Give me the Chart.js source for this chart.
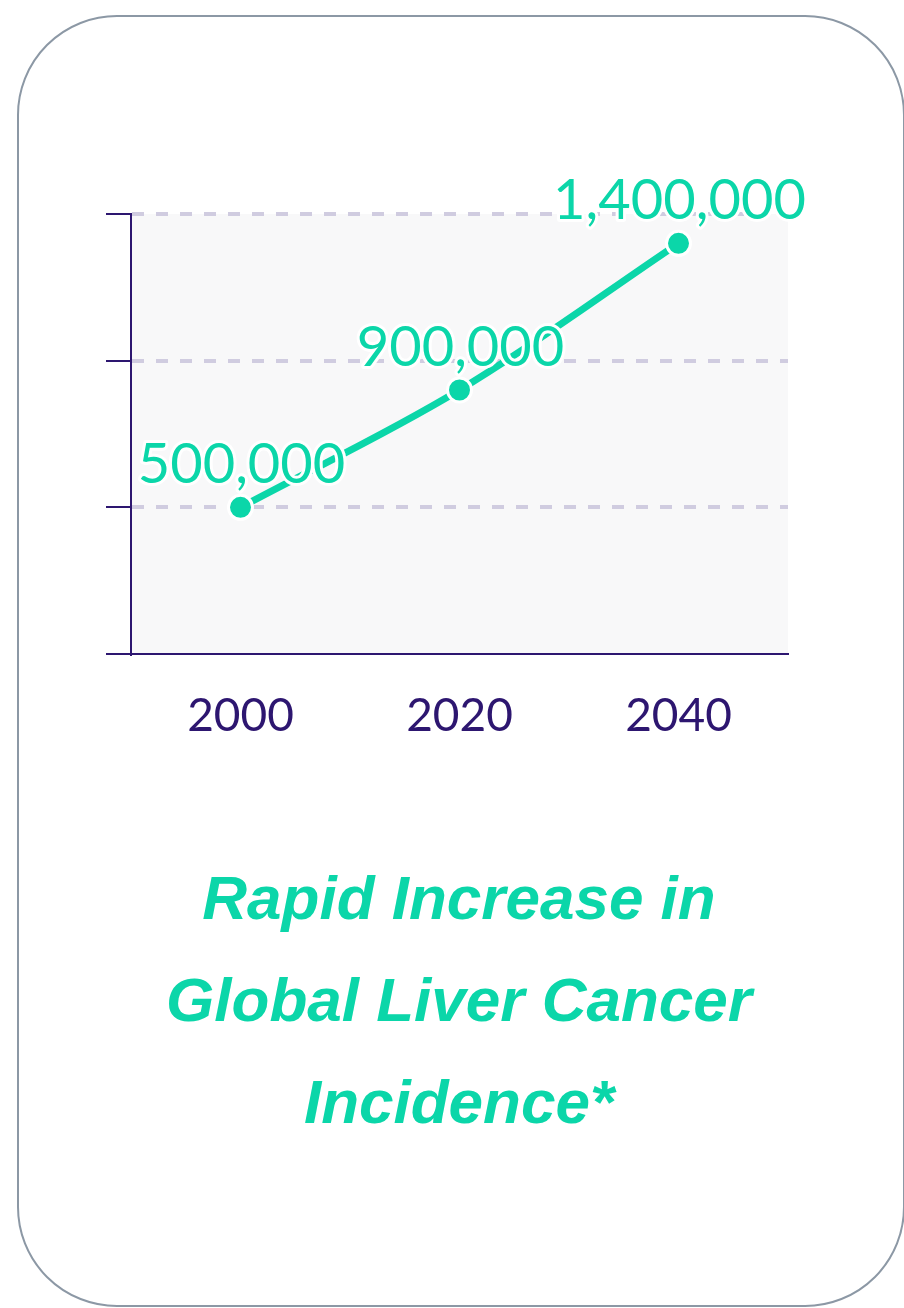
<!DOCTYPE html>
<html>
<head>
<meta charset="utf-8">
<script src="https://cdn.jsdelivr.net/npm/chart.js@4"></script>
<style>
  body { margin: 0; background: #fff; width: 904px; height: 1308px; position: relative; overflow: hidden; }
  #card {
    position: absolute; left: 17px; top: 15px; width: 884px; height: 1288px;
    border: 2px solid #8c98a5; border-radius: 100px; background: #fff;
  }
  #chart-box { position: absolute; left: 0; top: 0; width: 904px; height: 780px; }
  #title {
    position: absolute; left: 0; top: 847px; width: 918px; text-align: center;
    font-family: 'Liberation Sans', Arial, sans-serif;
    font-weight: bold; font-style: italic; font-size: 62px; line-height: 102px;
    color: #0bd6a9;
  }
</style>
</head>
<body>
<div id="card"></div>
<div id="chart-box"><canvas id="chart"></canvas></div>
<div id="title">Rapid Increase in<br>Global Liver Cancer<br>Incidence*</div>
<script>
//----------------------------------DATA-----------------------------------------------------------

const years = ['2000', '2020', '2040']
const cases = [500000, 900000, 1400000]
const yTicks = [0, 500000, 1000000, 1500000]

const GREEN = '#0bd6a9'
const PURPLE = '#2d1670'

//----------------------------------PLUGINS--------------------------------------------------------

// light grey box behind the plot
const plotBackground = {
    id: 'plotBackground',
    beforeDraw(chart){
        let {ctx, chartArea} = chart
        ctx.save()
        ctx.fillStyle = '#f8f8f9'
        ctx.fillRect(chartArea.left, chartArea.top, chartArea.right - chartArea.left, chartArea.bottom - chartArea.top)
        ctx.restore()
    }
}

// big value labels above each point, white halo so they sit on the line
const valueLabels = {
    id: 'valueLabels',
    afterDatasetsDraw(chart){
        let ctx = chart.ctx
        let meta = chart.getDatasetMeta(0)
        ctx.save()
        ctx.font = '56px Lato'
        ctx.textAlign = 'center'
        ctx.textBaseline = 'alphabetic'
        ctx.lineJoin = 'round'
        meta.data.forEach((pt, i) => {
            let text = cases[i].toLocaleString('en-US')
            ctx.lineWidth = 6
            ctx.strokeStyle = '#ffffff'
            ctx.strokeText(text, pt.x + 1, pt.y - 24)
            ctx.fillStyle = GREEN
            ctx.fillText(text, pt.x + 1, pt.y - 24)
        })
        ctx.restore()
    }
}

//----------------------------------CHART----------------------------------------------------------

new Chart(document.getElementById('chart'), {
    type: 'line',
    data: {
        labels: years,
        datasets: [{
            data: cases,
            borderColor: GREEN,
            borderWidth: 7,
            tension: 0.35,
            pointRadius: 12,
            pointBorderWidth: 3,
            pointBorderColor: '#ffffff',
            pointBackgroundColor: GREEN,
            clip: false
        }]
    },
    options: {
        responsive: true,
        maintainAspectRatio: false,
        animation: false,
        layout: { padding: { top: 214, left: 106, right: 116, bottom: 26 } },
        plugins: { legend: { display: false }, tooltip: { enabled: false } },
        scales: {
            x: {
                offset: true,
                grid: { display: false, drawTicks: false },
                border: { display: true, color: PURPLE, width: 2 },
                ticks: { color: PURPLE, font: { family: 'Lato', size: 46 }, padding: 35 },
                afterFit(scale){ scale.height = 100 }
            },
            y: {
                min: yTicks[0],
                max: yTicks[yTicks.length - 1],
                afterBuildTicks(scale){ scale.ticks = yTicks.map(v => ({value: v})) },
                ticks: { display: false },
                grid: {
                    color: (c) => c.tick && c.tick.value === 0 ? 'rgba(0,0,0,0)' : '#d0cce0',
                    lineWidth: 4,
                    drawTicks: true,
                    tickLength: 25,
                    tickColor: PURPLE,
                    tickWidth: 2
                },
                border: { display: true, color: PURPLE, width: 2, dash: [12, 12] }
            }
        }
    },
    plugins: [plotBackground, valueLabels]
})
</script>
</body>
</html>
